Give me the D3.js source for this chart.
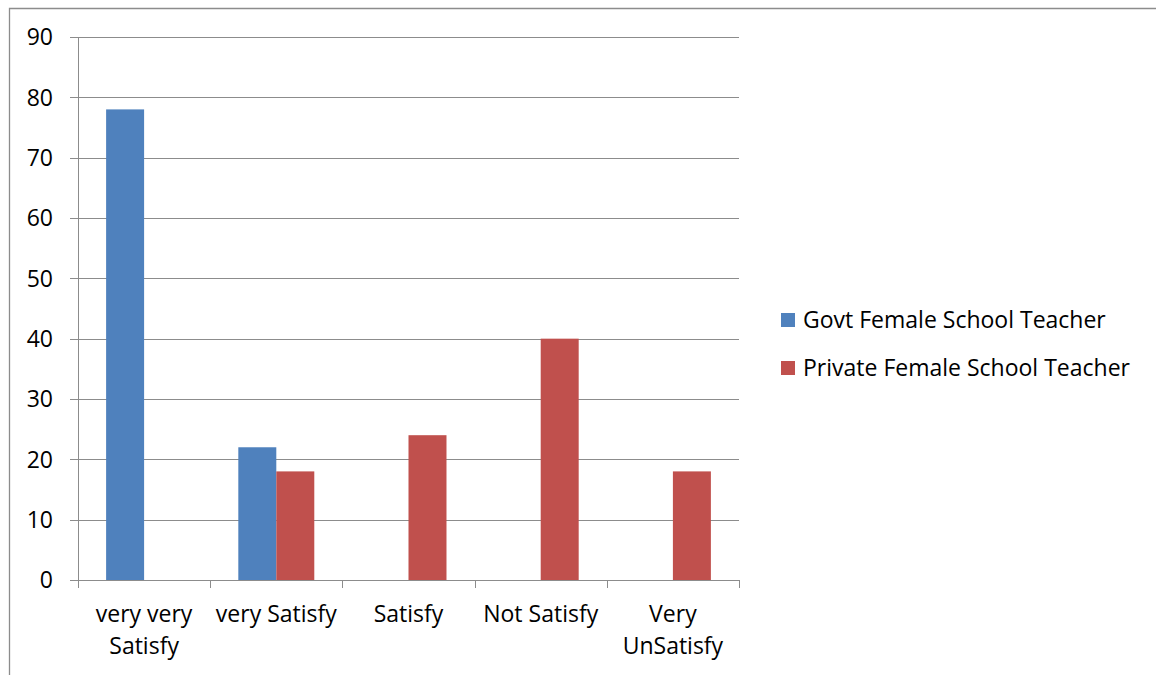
<!DOCTYPE html>
<html>
<head>
<meta charset="utf-8">
<script src="https://cdn.jsdelivr.net/npm/d3@7"></script>
<style>
  body { margin: 0; background: #fff; }
  text { font-family: "Open Sans", Lato, sans-serif; fill: #000; }
</style>
</head>
<body>
<svg id="chart" width="1156" height="675"></svg>
<script>
// Satisfaction survey data
const categories = [["very very", "Satisfy"], ["very Satisfy"], ["Satisfy"], ["Not Satisfy"], ["Very", "UnSatisfy"]];
const seriesNames = ["Govt Female School Teacher", "Private Female School Teacher"];
const govtValues = [78, 22, 0, 0, 0];
const privateValues = [0, 18, 24, 40, 18];
const yTicks = [0, 10, 20, 30, 40, 50, 60, 70, 80, 90];
const colors = ["#4F81BD", "#C0504D"];

const svg = d3.select("#chart");
const W = 1156, H = 675;
const plot = { left: 78, right: 739, top: 37, bottom: 580 };
const FS = 23;

// outer frame (top and left edges visible)
svg.append("path")
  .attr("d", `M9.5,${H} L9.5,8.5 L${W},8.5`)
  .attr("fill", "none").attr("stroke", "#8c8c8c").attr("stroke-width", 1.3);

const x0 = d3.scaleBand().domain(d3.range(categories.length)).range([plot.left, plot.right]).paddingInner(0).paddingOuter(0);
const x1 = d3.scaleBand().domain([0, 1]).range([0, x0.bandwidth()]).paddingInner(0).paddingOuter(0.74);
const y = d3.scaleLinear().domain([0, 90]).range([plot.bottom, plot.top]);

// gridlines with left tick stubs
svg.append("g").selectAll("line").data(yTicks).join("line")
  .attr("x1", plot.left - 8).attr("x2", plot.right)
  .attr("y1", d => Math.round(y(d)) + 0.5).attr("y2", d => Math.round(y(d)) + 0.5)
  .attr("stroke", "#8c8c8c").attr("stroke-width", 1);

// y tick labels
svg.append("g").selectAll("text").data(yTicks).join("text")
  .attr("x", 53).attr("y", d => y(d)).attr("dy", "0.36em")
  .attr("text-anchor", "end").attr("font-size", FS).text(d => d);

// bars
const series = [govtValues, privateValues];
series.forEach((vals, si) => {
  svg.append("g").selectAll("rect").data(vals).join("rect")
    .attr("x", (d, i) => x0(i) + x1(si))
    .attr("width", x1.bandwidth())
    .attr("y", d => y(d))
    .attr("height", d => y(0) - y(d))
    .attr("fill", colors[si]);
});

// y axis line
svg.append("line")
  .attr("x1", plot.left + 0.5).attr("x2", plot.left + 0.5)
  .attr("y1", plot.top).attr("y2", plot.bottom + 8)
  .attr("stroke", "#8c8c8c");

// x category ticks
const xTickPos = d3.range(categories.length + 1).map(i => i < categories.length ? x0(i) : plot.right);
svg.append("g").selectAll("line").data(xTickPos).join("line")
  .attr("x1", d => Math.round(d) + 0.5).attr("x2", d => Math.round(d) + 0.5)
  .attr("y1", plot.bottom).attr("y2", plot.bottom + 8)
  .attr("stroke", "#8c8c8c");

// x labels
categories.forEach((lines, i) => {
  const cx = x0(i) + x0.bandwidth() / 2;
  const t = svg.append("text").attr("text-anchor", "middle").attr("font-size", FS).attr("x", cx);
  lines.forEach((ln, k) => {
    t.append("tspan").attr("x", cx).attr("y", 622 + k * 32).text(ln);
  });
});

// legend
const legend = svg.append("g");
seriesNames.forEach((name, i) => {
  const ly = 320 + i * 48;
  legend.append("rect").attr("x", 781).attr("y", ly - 7).attr("width", 14).attr("height", 14).attr("fill", colors[i]);
  legend.append("text").attr("x", 803).attr("y", ly).attr("dy", "0.36em").attr("font-size", FS).text(name);
});
</script>
</body>
</html>
